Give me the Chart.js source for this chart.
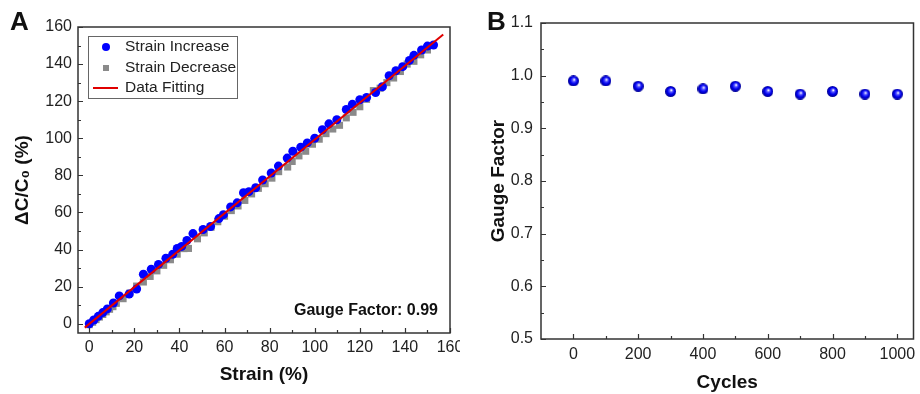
<!DOCTYPE html>
<html>
<head>
<meta charset="utf-8">
<script src="https://cdn.jsdelivr.net/npm/chart.js@4/dist/chart.umd.min.js"></script>
<style>
  body { margin: 0; background: #fff; }
  .panel { position: absolute; top: 0; width: 460px; height: 394px; }
</style>
</head>
<body>
<div class="panel" style="left:0"><canvas id="chartA" width="460" height="394"></canvas></div>
<div class="panel" style="left:460px"><canvas id="chartB" width="460" height="394"></canvas></div>
<script>
// Panel A - strain increase (blue circles)
const incStrain = [0, 2, 4, 6, 8, 10.7, 13.3, 17.7, 21, 24, 27.5, 30.7, 34, 37, 39, 41, 43.3, 46, 50.5, 53.8,
  57.5, 59.5, 62.7, 65.6, 68.4, 70.8, 73.8, 76.9, 80.7, 83.9, 87.8, 90.3, 93.8, 96.7, 100, 103.4, 106.3,
  109.8, 114, 116.7, 120, 123, 127, 130, 133, 136, 139, 142, 144, 147.4, 150, 152.7];
const incCap = [0, 2, 4, 6, 8, 11.2, 15, 16, 18.7, 26.7, 29.4, 32, 35.3, 37.4, 40.6, 41.7, 44.9, 48.6, 50.8, 52.4,
  56.7, 58.8, 63, 65.2, 70.6, 71.2, 73.3, 77.5, 81.3, 85, 89.3, 93, 95.2, 97.5, 100, 104.6, 107.8,
  110, 115.5, 118.3, 120.8, 122, 124.7, 127.8, 133.7, 136.4, 138.6, 142, 144.7, 147.6, 149.7, 150.3];

// Panel A - strain decrease (grey squares)
const decStrain = [0, 1.5, 3, 4.5, 6, 7.5, 9, 10.5, 12, 15, 18, 21, 24, 27, 30, 33, 36, 39, 42, 44, 48, 51, 54,
  57, 60, 63, 66, 69, 72, 75, 78, 81, 84, 88, 90, 93, 96, 99, 102, 105, 108, 111, 114, 117, 120, 123, 126,
  129, 132, 135, 138, 141, 144, 147, 150];
const decCap = [-0.5, 0.8, 2.2, 3.6, 5, 6.4, 7.8, 9.2, 11, 13.5, 16.5, 20.3, 22.5, 25.5, 28.5, 31.5, 34.5, 37.5,
  40.5, 40.6, 45.8, 49, 52, 55, 58, 61, 63.5, 66.5, 70, 73, 75.5, 78.5, 82, 84.5, 87.5, 90.5, 93, 96.8, 99.5,
  102.5, 105, 107, 111, 114, 117, 121, 125.7, 127, 130, 132.5, 136, 140, 141.5, 145, 147.6];

// Panel A - linear fit
const fitStrain = [-2, 157];
const fitCap = [-2.1, 156];

// Panel B - gauge factor vs cycles
const cycles = [0, 100, 200, 300, 400, 500, 600, 700, 800, 900, 1000];
const gaugeFactor = [0.99, 0.99, 0.98, 0.97, 0.975, 0.98, 0.97, 0.965, 0.97, 0.965, 0.965];

// tick values
const xTicksA = [0, 20, 40, 60, 80, 100, 120, 140, 160];
const xMinorA = [10, 30, 50, 70, 90, 110, 130, 150];
const yTicksA = [0, 20, 40, 60, 80, 100, 120, 140, 160];
const yMinorA = [10, 30, 50, 70, 90, 110, 130, 150];
const xTicksB = [0, 200, 400, 600, 800, 1000];
const xMinorB = [100, 300, 500, 700, 900];
const yTicksB = [0.5, 0.6, 0.7, 0.8, 0.9, 1.0, 1.1];
const yMinorB = [0.55, 0.65, 0.75, 0.85, 0.95, 1.05];

const FONT = "'Liberation Sans', Arial, sans-serif";
const INK = '#222';

const toPoints = (xs, ys) => xs.map((v, i) => ({ x: v, y: ys[i] }));

// shaded ball used as point style in panel B
function makeSphere(d) {
  const c = document.createElement('canvas');
  c.width = d;
  c.height = d;
  const g = c.getContext('2d');
  const r = d / 2;
  const grad = g.createRadialGradient(r * 1.15, r * 0.75, r * 0.05, r, r, r);
  grad.addColorStop(0, '#ffffff');
  grad.addColorStop(0.25, '#5a5aff');
  grad.addColorStop(0.6, '#0000f0');
  grad.addColorStop(1, '#000090');
  g.fillStyle = grad;
  g.beginPath();
  g.arc(r, r, r, 0, Math.PI * 2);
  g.fill();
  return c;
}

// box around the plot area + inward tick marks + panel letter
const framePlugin = {
  id: 'frame',
  afterDraw(chart, args, opts) {
    const { ctx, chartArea: a, scales } = chart;
    ctx.save();
    ctx.strokeStyle = '#333';
    ctx.lineWidth = 1.5;
    ctx.strokeRect(a.left, a.top, a.right - a.left, a.bottom - a.top);

    ctx.lineWidth = 1.2;
    ctx.beginPath();
    const tickX = (vals, len) => vals.forEach(v => {
      const px = Math.round(scales.x.getPixelForValue(v)) + 0.5;
      ctx.moveTo(px, a.bottom);
      ctx.lineTo(px, a.bottom - len);
    });
    const tickY = (vals, len) => vals.forEach(v => {
      const py = Math.round(scales.y.getPixelForValue(v)) + 0.5;
      ctx.moveTo(a.left, py);
      ctx.lineTo(a.left + len, py);
    });
    tickX(opts.xMajor, 5);
    tickX(opts.xMinor, 3);
    tickY(opts.yMajor, 5);
    tickY(opts.yMinor, 3);
    ctx.stroke();

    ctx.fillStyle = '#111';
    ctx.font = 'bold 26px ' + FONT;
    ctx.textAlign = 'left';
    ctx.textBaseline = 'alphabetic';
    ctx.fillText(opts.letter, opts.letterX, 30);
    ctx.restore();
  }
};

// legend box inside panel A
const legendBoxPlugin = {
  id: 'legendBox',
  afterDraw(chart, args, opts) {
    if (!opts.show) return;
    const { ctx } = chart;
    ctx.save();
    ctx.strokeStyle = '#666';
    ctx.lineWidth = 1;
    ctx.strokeRect(88.5, 36.5, 149, 62);
    ctx.font = '15.5px ' + FONT;
    ctx.fillStyle = INK;
    ctx.textBaseline = 'middle';
    const rows = [47, 68, 88];
    chart.data.datasets.forEach((ds, i) => {
      const cy = rows[i];
      if (ds.showLine) {
        ctx.strokeStyle = ds.borderColor;
        ctx.lineWidth = 2;
        ctx.beginPath();
        ctx.moveTo(93, cy);
        ctx.lineTo(118, cy);
        ctx.stroke();
      } else if (ds.pointStyle === 'rect') {
        ctx.fillStyle = ds.backgroundColor;
        ctx.fillRect(103, cy - 3, 6, 6);
      } else {
        ctx.fillStyle = ds.backgroundColor;
        ctx.beginPath();
        ctx.arc(106, cy, 4, 0, Math.PI * 2);
        ctx.fill();
      }
      ctx.fillStyle = INK;
      ctx.fillText(ds.label, 125, cy);
    });
    ctx.restore();
  }
};

// note text in panel A
const notePlugin = {
  id: 'note',
  afterDraw(chart, args, opts) {
    if (!opts.text) return;
    const { ctx } = chart;
    ctx.save();
    ctx.font = 'bold 16px ' + FONT;
    ctx.fillStyle = '#111';
    ctx.textAlign = 'right';
    ctx.textBaseline = 'middle';
    ctx.fillText(opts.text, opts.x, opts.y);
    ctx.restore();
  }
};

const fixedTicks = vals => scale => { scale.ticks = vals.map(v => ({ value: v })); };

function axis(title, min, max, ticks, opts) {
  return {
    type: 'linear',
    min: min,
    max: max,
    afterBuildTicks: fixedTicks(ticks),
    afterFit: opts.afterFit,
    grid: { display: false, drawTicks: false },
    border: { display: false },
    ticks: {
      color: INK,
      font: { family: FONT, size: 16 },
      padding: opts.padding,
      callback: opts.fmt || (v => v)
    },
    title: {
      display: true,
      text: title,
      color: '#111',
      font: { family: FONT, size: 19, weight: 'bold' },
      padding: opts.titlePad
    }
  };
}

Chart.register(framePlugin, legendBoxPlugin, notePlugin);

new Chart(document.getElementById('chartA'), {
  type: 'scatter',
  data: {
    datasets: [
      {
        label: 'Strain Increase',
        data: toPoints(incStrain, incCap),
        backgroundColor: '#0000ff',
        borderWidth: 0,
        pointStyle: 'circle',
        pointRadius: 4.5,
        order: 2
      },
      {
        label: 'Strain Decrease',
        data: toPoints(decStrain, decCap),
        backgroundColor: '#8a8a8a',
        borderWidth: 0,
        pointStyle: 'rect',
        pointRadius: 5,
        order: 3
      },
      {
        label: 'Data Fitting',
        data: toPoints(fitStrain, fitCap),
        showLine: true,
        borderColor: '#e00000',
        borderWidth: 2,
        pointRadius: 0,
        order: 1
      }
    ]
  },
  options: {
    responsive: false,
    animation: false,
    layout: { padding: { top: 27, right: 10, left: 0, bottom: 0 } },
    plugins: {
      legend: { display: false },
      tooltip: { enabled: false },
      frame: { xMajor: xTicksA, xMinor: xMinorA, yMajor: yTicksA, yMinor: yMinorA, letter: 'A', letterX: 10 },
      legendBox: { show: true },
      note: { text: 'Gauge Factor: 0.99', x: 438, y: 311 }
    },
    scales: {
      x: axis('Strain (%)', -5, 160, xTicksA, {
        padding: 5,
        titlePad: { top: 0, bottom: 8 },
        afterFit: s => { s.height = 61; s.paddingLeft = 0; s.paddingRight = 0; }
      }),
      y: axis('\u0394C/C\u2080 (%)', -5, 160, yTicksA, {
        padding: 6,
        titlePad: { top: 11, bottom: 0 },
        afterFit: s => { s.width = 78; }
      })
    }
  }
});

new Chart(document.getElementById('chartB'), {
  type: 'scatter',
  data: {
    datasets: [
      {
        label: 'Gauge Factor',
        data: toPoints(cycles, gaugeFactor),
        pointStyle: makeSphere(11),
        pointRadius: 5.5
      }
    ]
  },
  options: {
    responsive: false,
    animation: false,
    layout: { padding: { top: 23, right: 3, left: 0, bottom: 0 } },
    plugins: {
      legend: { display: false },
      tooltip: { enabled: false },
      frame: { xMajor: xTicksB, xMinor: xMinorB, yMajor: yTicksB, yMinor: yMinorB, letter: 'B', letterX: 27 },
      legendBox: { show: false },
      note: {}
    },
    scales: {
      x: axis('Cycles', -100, 1050, xTicksB, {
        padding: 6,
        titlePad: { top: 0, bottom: 0 },
        afterFit: s => { s.height = 55; s.paddingLeft = 0; s.paddingRight = 0; }
      }),
      y: axis('Gauge Factor', 0.5, 1.1, yTicksB, {
        padding: 8,
        titlePad: { top: 27, bottom: 0 },
        fmt: v => v.toFixed(1),
        afterFit: s => { s.width = 81; }
      })
    }
  }
});
</script>
</body>
</html>
